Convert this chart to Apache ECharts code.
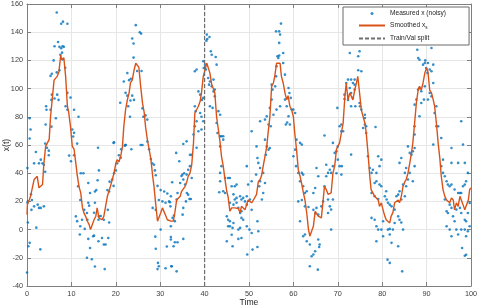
<!DOCTYPE html>
<html>
<head>
<meta charset="utf-8">
<script src="https://cdn.jsdelivr.net/npm/echarts@6/dist/echarts.min.js"></script>
<style>html,body{margin:0;padding:0;background:#fff}#c{width:478px;height:307px}</style>
</head>
<body>
<div id="c"></div>
<script>
// ---- data ----
var xRange = [0, 100, 10];
var yRange = [-40, 160, 20];
var splitTime = 40;
var seriesNames = ['Measured x (noisy)', 'Smoothed x_s', 'Train/Val split'];

var measured = [
[6.7,154],[7.7,146],[8.1,147.5],[9.1,146],
[6.2,130],[7.0,133],[7.3,129.6],[7.7,128.6],[8.0,130],[8.3,129.6],[7.9,125.5],
[6.0,120],[7.5,124],[8.0,120.6],[8.6,114.7],
[5.3,109],[5.6,110.5],[6.7,111.5],[7.3,113],
[5.6,95.7],[6.8,95.7],[6.2,93],[7.1,92],[5.5,92],
[9.1,97],[9.8,93.6],[8.7,87.5],[9.1,85],
[4.3,87.5],[4.4,85],[5.3,85],
[6.5,79],[10.6,85],[11.6,80],
[4.2,74.5],[5.5,73],[0.6,79],[0.8,71],[0.6,64.6],
[10.2,71],[10.6,68.6],[10.4,66],
[4.1,61],[4.5,58],[4.9,56],[4.9,52.7],
[11.3,61],
[9.5,52.5],[9.9,48.5],[10.6,52.7],
[2.0,55],[1.6,47],[2.7,47],[3.1,49.6],[3.5,47],[3.8,46],[4.1,41],
[0.1,43.6],
[12.1,40],[12.7,40],
[16.2,42],[16.0,58],[19.6,62],
[11.5,30.7],[13.8,33],[14.2,26],[15.3,27],[15.9,35],
[12.0,21],[12.9,14],[13.5,11.8],[13.8,19],[14.0,17],[15.3,19],[15.6,28],
[18.6,34],[18.1,28],[18.5,27],[19.5,31],[19.2,35.5],[19.6,40],[20.0,42],[20.3,47],[20.7,52.7],[21.1,51],[22.0,59.5],
[19.5,61.5],[21.2,57],[22.2,60],
[0.9,25],[1.1,21],[1.6,16.5],[2.4,17.7],[2.7,15.4],[3.1,15.4],[3.8,16.5],[1.0,14],
[0.2,20],[0.1,19],
[2.1,1.4],[0.2,5],
[0.3,-11.8],[0.6,-9.4],
[3.0,-14],
[0.0,-30.5],
[11.0,9.4],[11.3,6],[12.0,2.4],[12.4,7],[13.0,0.5],[13.6,7],[15.1,12],[16.1,7],[16.2,9.5],[16.6,9.6],[17.3,7],[18.2,14],[18.5,5],
[11.9,-3.5],[13.8,-6.6],[14.9,-4.7],[15.1,-4.3],[16.1,-8.3],[16.9,-6],[17.3,-10.6],[17.7,-10.6],[18.3,-6],
[13.5,-20],[14.2,-13],[14.6,-21],[15.3,-26.2],[17.5,-28],
[24.5,145],[25.4,140],[25.7,139],[23.7,135.5],[24.0,132],
[24.0,122],[24.8,112.5],[25.8,112.5],[22.6,111],[21.8,105],[23.0,106],[23.4,107],
[21.0,90],[22.2,97],[22.6,95],[23.3,91.6],[23.7,95],[24.1,92],[22.8,87.5],[23.2,80],
[26.0,86],[26.2,80],[26.7,81],[27.1,78],
[25.6,60],[26.0,60],[23.5,57],[22.2,60],
[27.1,62.5],[27.5,57],[27.9,50],[28.2,47],[28.6,46],[28.8,42],
[29.0,38.5],[29.4,31],[28.3,15.4],[29.0,14],
[30.1,28],[30.9,27],[31.6,25.6],[32.4,23.6],[32.7,33.6],[29.7,21],[30.5,20],[31.2,19],[32.0,20],
[30.1,0],[32.4,2.4],[28.9,-5],[29.0,-13.6],[31.5,-12],[32.4,-7],
[29.5,-23.6],[29.7,-26],[29.4,-28],[31.2,-27.4],[32.5,-26],
[32.6,-26],[33.7,-29.6],
[32.4,-5.2],[33.0,-11.8],[33.3,-9],[33.9,-9],[35.2,-6.6],
[32.2,19.4],[32.3,16.5],[32.8,8.3],[33.3,6],[33.1,10],
[33.7,21.3],[33.9,26],[34.5,33],[35.2,35.5],[35.4,40],[34.8,38],[35.6,32],[36.0,26],[36.3,24.8],[36.6,21.7],[36.9,21.7],[35.8,20],[35.2,15.4],[35.05,10.6],
[33.6,54.4],[34.3,48.5],[35.0,39],[35.95,39],[36.3,42.5],[36.7,45],[37.1,36.6],[35.2,60.7],[35.95,62.6],[36.7,53],[37.1,53],
[37.5,67.4],[37.8,73.3],[38.2,58],[38.6,69.7],[37.8,87.5],[38.0,84],[38.2,76.8],[39.0,82.7],[39.3,80],[39.3,71],[39.7,76.8],
[38.6,98],[39.0,95.7],[39.7,93.4],[39.4,92],
[37.8,112.3],[38.2,113.5],[39.7,119.4],[40.1,117],[39.8,114.6],[40.3,113.5],
[40.5,138.3],[40.6,135.2],[41.1,136.6],[40.4,134],
[41.4,126.5],[41.6,124],[42.5,122.4],[42.7,117],
[40.8,107.5],[41.2,105],[41.0,102.8],[41.6,101.6],[42.0,106.4],[42.0,98],[42.3,99.3],[42.3,94.5],
[41.2,87.5],[41.8,86.3],[43.1,84],[43.5,81.5],[42.7,75.6],[42.9,68.5],[43.5,66.2],[43.8,66.2],[44.2,66.2],[44.2,63.8],
[43.5,59],[43.8,45],[43.5,40.2],[43.5,34.3],[44.6,36.6],[45.3,36.6],[45.7,36.6],
[43.3,26.5],[44.2,27.2],[44.6,26],[46.1,30.7],[46.8,30.7],[47.2,31.9],[46.5,25],[46.8,21.3],[47.2,22.5],[48.0,23.6],[48.3,21.3],[48.7,22.5],[49.1,20],[49.5,23.6],[49.5,45],[49.8,31.9],[50.6,34.3],[50.2,21.3],
[45.7,19],[46.5,17.7],[47.2,19],[47.6,15.4],[48.0,11.8],[48.3,13],[49.5,17.7],[50.6,14],
[45.0,9.4],[45.3,7],[45.7,5.9],[45.3,2.4],[45.7,2.4],[46.3,1.2],[46.5,4.7],[46.1,-3.6],[47.6,0],[48.0,1.2],[48.3,8.3],[48.7,7],[49.5,2.4],[50.1,0],[50.6,-2.4],[48.3,-6],[47.6,-6.6],[45.0,-8.3],[46.3,-11.8],
[49.6,-17.7],[50.8,-14.2],[51.9,-12.3],[52.1,-1.2],[51.9,5.9],
[50.6,69.7],[51.7,59],[51.9,50.8],[52.1,47.3],[52.5,43.7],[52.5,34.3],[53.2,40.2],[53.6,33],[53.2,26],[52.9,21.3],[52.3,30.7],[51.6,39],
[52.5,76.8],[53.6,78],[54.0,80.4],[54.4,74.5],[54.0,59],[54.4,56.7],[54.7,57.9],[53.6,63.8],[53.8,53],
[54.7,86.3],[55.1,92.2],[55.3,99.3],[55.1,102.8],[54.9,73.3],[55.5,81.5],
[55.9,101.6],[56.1,108.7],[56.2,115.8],[56.4,122.9],[56.8,123.4],[56.6,121.7],[57.7,125.3],[57.7,118.2],[58.1,109.9],[58.9,100.4],[59.1,96.9],[59.4,93.4],
[56.1,140.6],[56.8,140.6],[57.2,146.1],[56.8,132.4],[57.0,138.3],
[56.2,85.1],[57.0,87.5],
[58.1,92.2],[58.5,87.5],[58.9,80.4],[58.3,74.5],[58.6,76],[59.2,74.5],[59.6,85.1],[60.0,85.1],[60.4,82.7],
[60.7,63.8],[61.5,61.5],[61.9,60.3],[60.4,56.7],[60.0,52],[60.6,45],[61.1,40.2],[61.9,40.2],[61.5,34.3],[62.2,39],[62.2,30.7],[62.6,26],[63.0,27.2],
[61.1,20],[61.9,21],[62.6,16.5],[63.4,16],[64.5,26],[64.9,29.5],[65.2,43.7],[65.6,37.8],[64.5,14],[65.2,15.4],[65.6,10.6],[65.0,11.5],
[61.5,5.9],[62.2,-4.7],[62.6,-3.5],[63.0,-8.3],[63.7,-10.6],[64.1,-18.9],[64.5,-17.7],[64.9,-15.4],[63.7,-26],[65.6,-7],[65.8,-12.3],
[65.5,-28.4],[65.9,-10.6],
[66.3,16.5],[66.7,20],[67.0,30.7],[67.4,37.8],[67.8,40.2],[68.2,42.5],[67.8,21.3],[68.2,16.5],[68.5,14.2],[67.8,11.8],[68.5,0],[68.9,21.3],
[67.4,46],[68.5,40.2],[68.9,45],[68.9,61.5],[69.3,54.4],[69.7,55.5],[70.0,59],[70.4,73.3],[70.8,74.5],[70.8,69.7],[69.7,40],[70.8,39],[70.4,45],[70.0,49.6],
[67.0,66.7],[69.9,86.3],[71.2,69.7],
[70.9,45],[73.0,53.2],[71.5,95.7],[71.5,92.6],[71.9,104],[72.3,106.4],[72.7,100.4],[73.0,106.4],[73.4,104],[72.3,92],[73.0,96.9],[73.0,87.5],[73.4,93.4],[73.8,99.3],[73.95,87.5],[73.8,106.4],
[72.7,125.3],[74.6,122.9],[74.9,126.5],[74.6,113],[75.3,112.3],
[73.8,102.8],[74.9,89.8],[75.0,87.5],[75.3,85.1],[76.1,81.5],[76.1,74.5],[75.7,72.1],[76.4,68.5],[76.4,73.3],[78.5,72.8],[76.1,79.2],
[76.8,52],[77.2,43.7],[77.6,40.2],[77.9,42.5],[78.7,40.2],[79.1,52],[79.8,49.6],[79.4,45],[78.3,33],[78.7,34.3],[79.4,31.9],[79.8,30.7],
[77.6,26],[78.3,23.6],[79.1,21.7],[80.6,23.6],[80.9,27.2],[81.0,21.3],[81.3,19],[81.7,17.7],[82.1,16.5],[82.8,14.2],[83.2,23.6],[83.6,24.8],[83.9,27.2],[84.3,21.3],[84.7,31.9],
[77.6,8.3],[78.3,7],[78.7,2.4],[79.1,0],[80.2,5.9],[79.8,0],[81.3,0],[81.7,0.5],[82.4,0],[82.8,4.7],[83.9,7],[84.3,5],[83.6,9.4],[80.2,-4.7],
[78.7,-8.3],[81.7,-3.5],[82.1,-9.4],[83.6,-11.8],[81.2,-21.3],[81.7,-23.6],[84.5,-29.6],
[84.7,0],[85.1,23.6],[85.4,30.7],[85.8,35.5],[86.2,40.2],[83.9,47.3],[84.3,50.8],[85.1,40.2],[85.4,43.7],[85.8,59],[86.2,54.4],[86.6,53.2],[86.9,55.5],[87.3,57.9],[87.3,45],[86.9,34.3],[87.3,67.4],[87.3,73.3],[87.3,88.6],[87.7,92.2],[88.1,99.3],[88.4,100.4],[88.8,98.1],[89.4,92.2],[88.8,89.8],[88.4,80.4],[89.6,101.6],[90.3,92.2],[90.7,96.9],[91.5,104],
[88.1,121.7],[88.4,120.5],[89.2,117],[89.6,118.2],[90.3,118.2],[90.7,113.5],[90.2,111.1],[91.1,112.3],[89.9,114.6],
[87.9,127.6],[89.7,120],[91.1,128.8],[91.5,117],
[91.1,94.5],[91.8,82.7],[92.2,87.5],[92.2,73.3],[92.6,73.3],[91.5,60.3],[93.3,65],[93.7,49.6],[93.3,45],[93.7,40.2],[94.1,37.8],[94.5,34.3],[94.8,31.9],[95.2,30.7],[95.6,31.9],[96.3,28.4],[97.1,26],[97.5,26],[98.2,30.7],[98.6,31.9],[97.8,26],[95.6,57.9],[97.8,76.8],[98.2,60.3],[98.6,47.3],[98.9,34.3],[99.3,40.2],[95.6,47.3],[97.1,47.3],
[94.1,21.3],[94.5,13],[94.8,11.8],[95.2,17.7],[95.6,15.4],[95.95,9.4],[96.3,5.9],[96.7,14.2],[97.5,15.4],[97.8,11.8],[98.6,7],[98.9,5.9],[99.3,11.8],[99.7,18.9],
[94.5,2.4],[95.2,0],[95.6,-4.7],[96.7,0],[97.1,-3.5],[97.8,0],[98.6,0],[98.9,-4.7],[99.3,-1.2],[99.7,2.4],[98.0,-13],[98.6,-18.5],[98.9,-17.8]
];

var smoothed = [
[0,10.6],[0.1,18],[0.5,21],[0.8,23.6],[1.6,35.5],[2.0,36.6],[2.3,37.8],[2.7,29.6],[3.1,28.4],[3.5,32],[3.8,47],[4.2,59],[5.0,64],[5.3,80],[6.1,106],[6.8,108.7],[7.2,112],[7.6,124],[7.8,120.6],[8.3,121.8],[8.7,108.7],[9.1,87.5],[9.4,83],[9.8,73],[10.2,59],[10.6,57],[11.0,47],[11.3,39],[11.7,30.7],[12.1,26],[12.5,15.4],[12.8,12],[13.2,9.4],[13.6,5.9],[14.0,3.5],[14.3,0],[14.7,3.5],[15.1,7],[15.5,9.5],[15.8,15.4],[16.2,8.3],[16.6,9.4],[16.9,7],[17.3,9.4],[17.7,16.5],[18.1,23.6],[18.5,22.5],[18.8,30.7],[19.2,35.5],[19.6,40],[20.0,47],[20.3,49.6],[20.7,48],[21.1,52],[21.5,59],[21.8,73],[22.2,85],[22.6,92],[23.0,97],[23.3,104],[23.7,106],[24.1,113],[24.5,118],[24.8,119],[25.2,115],[25.6,101.6],[26.0,90],[26.4,83],[26.7,73],[27.1,64],[27.5,57],[27.9,50],[28.3,38],[28.6,30.7],[29.0,17.7],[29.4,6],[29.8,7],[30.1,11.8],[30.5,15.4],[30.9,16.5],[31.3,9.4],[31.6,7],[32.4,6],[32.95,6],[33.3,12],[33.7,21],[34.5,23.6],[34.8,27],[35.2,28.4],[35.6,30.7],[36.0,34],[36.3,37.8],[36.7,40],[37.1,46],[37.5,61.5],[37.8,82.7],[38.2,85],[38.6,87.5],[39.0,91],[39.3,97],[39.7,108.7],[40.1,113.5],[40.5,118],[40.8,117],[41.2,111],[41.6,103],[42.0,101.6],[42.3,97],[42.7,80],[43.1,71],[43.5,61.5],[43.8,52],[44.2,45],[44.6,35.5],[45.0,27],[45.3,23],[45.7,13],[46.1,15.4],[46.5,14],[46.8,15.4],[47.2,14],[47.6,15],[48.0,12],[48.3,16.5],[48.7,15.4],[49.1,14],[49.5,13],[49.8,21],[50.2,20],[50.6,19],[51.0,21],[51.3,20],[51.7,25],[52.1,34],[52.5,35.5],[52.8,38],[53.2,45],[53.6,52],[54.0,59],[54.3,68.6],[54.7,80],[55.1,101.6],[55.5,104],[55.8,108.7],[56.2,118],[56.6,119],[57.0,118],[57.3,108.7],[57.7,104],[58.1,97],[58.5,92],[58.8,95],[59.2,87.5],[59.6,85],[60.0,80],[60.3,68.6],[60.7,57],[61.1,42.5],[61.5,37.8],[61.9,32],[62.2,27],[62.6,21],[63.0,11.8],[63.4,0],[63.7,-4.7],[64.1,-4.7],[64.5,2.4],[64.9,13],[65.2,12],[65.6,9.5],[66.0,8.3],[66.3,8.3],[66.7,21],[67.0,30.7],[67.4,28.4],[67.8,25],[68.2,23.6],[68.5,26],[68.9,40],[69.3,45],[69.7,57],[70.0,59],[70.4,61.5],[70.8,68.6],[71.2,75.6],[71.6,94.6],[71.9,104],[72.3,92],[72.7,97],[73.0,98],[73.4,92],[73.8,99],[74.2,104],[74.5,108.7],[74.9,97],[75.3,85],[75.7,80],[76.1,75.6],[76.4,68.6],[76.8,54.4],[77.2,37.8],[77.5,28.4],[77.9,26],[78.3,23.6],[78.7,22.5],[79.1,21],[79.4,16.5],[79.8,19],[80.2,14],[80.6,9.4],[80.9,7],[81.3,8.3],[81.7,4.7],[82.0,9.4],[82.4,12],[82.8,19],[83.2,17.7],[83.6,21],[83.9,19],[84.3,23.6],[84.7,30.7],[85.1,34],[85.4,35.5],[85.8,40],[86.2,47],[86.6,54.4],[86.9,61.5],[87.3,75.6],[87.7,90],[88.1,99],[88.4,101.6],[88.8,99],[89.2,104],[89.6,111],[90.0,114.7],[90.3,112],[90.7,99],[91.1,97],[91.5,92],[91.8,87.5],[92.2,75.6],[92.6,61.5],[93.0,50],[93.3,38],[93.7,28.4],[94.1,23.6],[94.5,21],[94.8,21],[95.2,19],[95.6,22.5],[96.0,21],[96.3,14],[96.7,19],[97.1,16.5],[97.5,23.6],[97.8,25],[98.2,17.7],[98.6,14],[99.0,15.4],[99.4,21],[99.7,28.4],[100,29.6]
];

// ---- chart ----
var FONT = 'Liberation Sans, Arial, Helvetica, sans-serif';
var AX = '#7f7f7f';
var TXT = '#404040';
function baseAxis(range, pos, main) {
  return {
    type: 'value', min: range[0], max: range[1], interval: range[2], position: pos,
    axisLine: { show: true, onZero: false, lineStyle: { color: AX, width: 1 } },
    axisTick: { show: true, inside: true, length: 4, lineStyle: { color: AX } },
    axisLabel: { show: main, fontSize: 7.3, color: TXT, fontFamily: FONT, margin: 4 },
    splitLine: { show: main, lineStyle: { color: '#e6e6e6', width: 1 } }
  };
}
var xMain = baseAxis(xRange, 'bottom', true);
xMain.name = 'Time'; xMain.nameLocation = 'middle'; xMain.nameGap = 12; xMain.nameMoveOverlap = false;
xMain.nameTextStyle = { fontSize: 8.6, color: '#262626', fontFamily: FONT };
var yMain = baseAxis(yRange, 'left', true);
yMain.name = 'x(t)'; yMain.nameLocation = 'middle'; yMain.nameGap = 16; yMain.nameRotate = 90; yMain.nameMoveOverlap = false;
yMain.nameTextStyle = { fontSize: 8.6, color: '#262626', fontFamily: FONT };

var chart = echarts.init(document.getElementById('c'), null, { renderer: 'canvas' });
chart.setOption({
  animation: false,
  backgroundColor: '#ffffff',
  grid: { left: 27, right: 7, top: 4, bottom: 21, containLabel: false, outerBoundsMode: 'none' },
  xAxis: [xMain, baseAxis(xRange, 'top', false)],
  yAxis: [yMain, baseAxis(yRange, 'right', false)],
  legend: {
    orient: 'vertical', left: 343, top: 7,
    padding: [3, 23, 3, 15],
    itemWidth: 26, itemHeight: 3, itemGap: 5,
    backgroundColor: '#ffffff', borderColor: '#6a6a6a', borderWidth: 1,
    selectedMode: false,
    data: [
      { name: seriesNames[0] },
      { name: seriesNames[1], itemStyle: { opacity: 0 } },
      { name: seriesNames[2], itemStyle: { opacity: 0 } }
    ],
    formatter: function (n) { return n === 'Smoothed x_s' ? 'Smoothed x{sub|s}' : n; },
    textStyle: { fontSize: 6.6, lineHeight: 7, color: '#262626', fontFamily: FONT,
      rich: { sub: { fontSize: 4.6, fontFamily: FONT, color: '#262626', padding: [4, 0, 0, 0] } } }
  },
  series: [
    { name: seriesNames[0], type: 'scatter', data: measured, symbol: 'circle', symbolSize: 2.6,
      itemStyle: { color: '#0072BD' }, z: 2 },
    { name: seriesNames[1], type: 'line', data: smoothed, symbol: 'none', smooth: false,
      lineStyle: { color: '#D95319', width: 1.4 }, itemStyle: { color: '#D95319' }, z: 3 },
    { name: seriesNames[2], type: 'line', data: [[splitTime, yRange[0]], [splitTime, yRange[1]]], symbol: 'none',
      lineStyle: { color: '#6e6e6e', width: 1.2, type: [4, 2] }, itemStyle: { color: '#6e6e6e' }, z: 4 }
  ]
});
</script>
</body>
</html>
